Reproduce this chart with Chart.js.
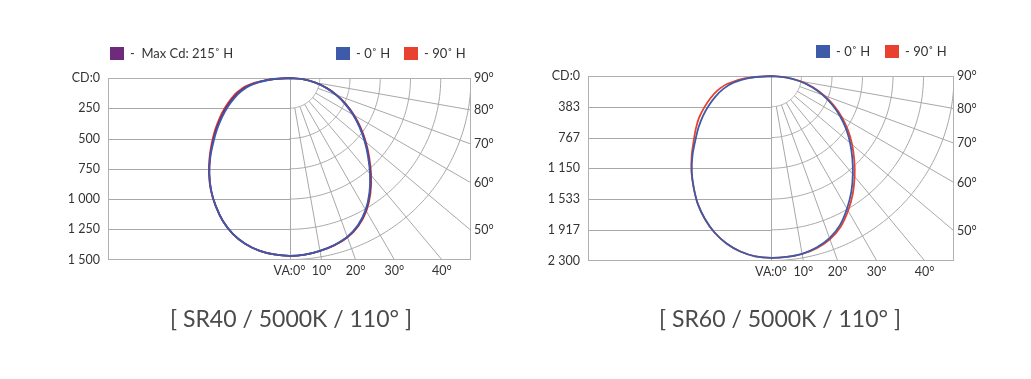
<!DOCTYPE html>
<html><head><meta charset="utf-8">
<script src="https://cdn.jsdelivr.net/npm/chart.js@4.4.1/dist/chart.umd.min.js"></script>
<style>
html,body{margin:0;padding:0;background:#fff;}
#wrap{position:relative;width:1031px;height:379px;overflow:hidden;background:#fff;}
.box{position:absolute;top:0;}
</style></head><body>
<div id="wrap">
  <div class="box" style="left:0;width:582px;height:379px"><canvas id="chart1" width="582" height="379" style="width:582px;height:379px"></canvas></div>
  <div class="box" style="left:529px;width:502px;height:379px"><canvas id="chart2" width="502" height="379" style="width:502px;height:379px"></canvas></div>
</div>
<script>
// ---------- data ----------
const angles = [0,5,10,15,20,25,30,35,40,45,50,55,60,65,70,75,80,85,90];

// SR40 (left chart), candela per vertical angle
const sr40_0H_right   = [1470,1465,1450,1428,1396,1340,1258,1152,1035,918,810,706,605,506,409,311,211,107,0];
const sr40_0H_left    = [1470,1463,1448,1418,1370,1303,1220,1130,1030,925,820,728,642,562,485,408,315,165,0];
const sr40_90H_right  = [1470,1465,1451,1431,1401,1348,1270,1166,1050,933,824,719,617,517,419,320,218,111,0];
const sr40_90H_left   = [1470,1463,1448,1418,1370,1303,1220,1133,1035,935,839,752,669,592,519,446,355,195,0];
const sr40_max_right  = [1470,1465,1450,1430,1398,1344,1264,1159,1042,925,817,712,611,511,414,315,214,109,0];
const sr40_max_left   = [1470,1463,1448,1418,1370,1303,1220,1131,1032,930,830,740,655,577,502,427,335,180,0];

// SR60 (right chart)
const sr60_0H_right   = [2266,2262,2250,2212,2150,2050,1910,1760,1600,1445,1298,1152,1003,848,690,530,360,182,0];
const sr60_0H_left    = [2266,2255,2220,2160,2075,1965,1840,1695,1550,1395,1240,1110,985,860,740,620,480,270,0];
const sr60_90H_right  = [2266,2262,2252,2220,2165,2072,1938,1792,1635,1480,1331,1182,1030,872,710,546,372,188,0];
const sr60_90H_left   = [2266,2255,2220,2160,2075,1965,1840,1695,1555,1410,1270,1155,1045,925,810,695,555,320,0];

// axis ticks / labels
const sr40_yTicks  = [0,250,500,750,1000,1250,1500];
const sr40_yLabels = ['CD:0','250','500','750','1 000','1 250','1 500'];
const sr60_yTicks  = [0,383.33,766.67,1150,1533.33,1916.67,2300];
const sr60_yLabels = ['CD:0','383','767','1 150','1 533','1 917','2 300'];
const bottomAngles = [0,10,20,30,40];
const bottomLabels = ['VA:0°','10°','20°','30°','40°'];
const sideAngles   = [90,80,70,60,50];
const sideLabels   = ['90°','80°','70°','60°','50°'];
const gridAngles   = [10,20,30,40,50,60,70,80];

const titles = ['[ SR40 / 5000K / 110° ]','[ SR60 / 5000K / 110° ]'];
const labelMax = '-  Max Cd: 215˚ H';
const label0H  = '- 0˚ H';
const label90H = '- 90˚ H';

const BLUE = '#3d5ba9', RED = '#e8412f', PURPLE = '#6e2b7c';
const GRID = '#a8a8a8', TEXT = '#333333', FONT = 'Lato';
const RAD = Math.PI / 180;

// ---------- helpers ----------
function polarPoints(left, right) {
  const pts = [];
  for (let i = angles.length - 1; i >= 0; i--) {
    const a = angles[i] * RAD;
    pts.push({x: -left[i] * Math.sin(a), y: left[i] * Math.cos(a)});
  }
  for (let i = 1; i < angles.length; i++) {
    const a = angles[i] * RAD;
    pts.push({x: right[i] * Math.sin(a), y: right[i] * Math.cos(a)});
  }
  return pts;
}

const polarGrid = {
  id: 'polarGrid',
  beforeDatasetsDraw(chart) {
    const {ctx, chartArea: ca, scales: {x, y}} = chart;
    const max = y.max;
    const P = (vx, vy) => [x.getPixelForValue(vx), y.getPixelForValue(vy)];
    ctx.save();
    ctx.beginPath();
    ctx.rect(ca.left, ca.top, ca.right - ca.left, ca.bottom - ca.top);
    ctx.clip();
    ctx.strokeStyle = GRID;
    ctx.lineWidth = 1;
    const x0 = Math.round(x.getPixelForValue(0)) + 0.5;
    y.ticks.forEach(t => {
      const py = Math.round(y.getPixelForValue(t.value)) + 0.5;
      ctx.beginPath(); ctx.moveTo(ca.left, py); ctx.lineTo(x0, py); ctx.stroke();
    });
    ctx.beginPath(); ctx.moveTo(x0, ca.top); ctx.lineTo(x0, ca.bottom); ctx.stroke();
    const radii = y.ticks.map(t => t.value).filter(v => v > 0);
    radii.forEach(r => {
      ctx.beginPath();
      for (let d = 0; d <= 90; d += 1) {
        const [px, py] = P(r * Math.sin(d * RAD), r * Math.cos(d * RAD));
        d ? ctx.lineTo(px, py) : ctx.moveTo(px, py);
      }
      ctx.stroke();
    });
    const r0 = radii[0];
    gridAngles.forEach(g => {
      const a = g * RAD;
      const [ax, ay] = P(r0 * Math.sin(a), r0 * Math.cos(a));
      const [bx, by] = P(4 * max * Math.sin(a), 4 * max * Math.cos(a));
      ctx.beginPath(); ctx.moveTo(ax, ay); ctx.lineTo(bx, by); ctx.stroke();
    });
    ctx.restore();
    ctx.save();
    ctx.strokeStyle = '#b0b0b0';
    ctx.lineWidth = 1;
    ctx.strokeRect(Math.round(ca.left) + 0.5, Math.round(ca.top) + 0.5,
                   Math.round(ca.right - ca.left) - 1, Math.round(ca.bottom - ca.top) - 1);
    ctx.restore();
  }
};

const boxLegend = {
  id: 'boxLegend',
  afterDraw(chart, args, o) {
    const ctx = chart.ctx;
    ctx.save();
    ctx.font = '13px ' + FONT;
    ctx.textBaseline = 'middle';
    ctx.textAlign = 'left';
    (o.items || []).forEach(it => {
      const ds = chart.data.datasets[it.index];
      ctx.fillStyle = ds.borderColor;
      ctx.fillRect(it.x, it.y, 14, 13);
      ctx.fillStyle = TEXT;
      ctx.fillText(ds.label, it.x + 20, it.y + 7);
    });
    ctx.restore();
  }
};

function makeChart(id, cfg) {
  const max = cfg.max;
  const tickFont = {family: FONT, size: 12.5};
  const hidden = {display: false, drawTicks: false};
  return new Chart(document.getElementById(id), {
    type: 'scatter',
    data: {datasets: cfg.datasets.map(d => ({
      label: d.label, data: polarPoints(d.left, d.right),
      showLine: true, borderColor: d.color, backgroundColor: d.color,
      borderWidth: 1.8, pointRadius: 0, tension: 0.35, clip: 3
    }))},
    options: {
      responsive: false, animation: false, events: [],
      layout: {padding: {left: 0, right: 0, top: cfg.top, bottom: 45.6}},
      scales: {
        x: {
          type: 'linear', min: -max, max: max,
          grid: hidden, border: {display: false},
          afterBuildTicks: s => { s.ticks = bottomAngles.map(a => ({value: max * Math.tan(a * RAD)})); },
          afterFit: s => { s.height = 20; },
          ticks: {autoSkip: false, maxRotation: 0, padding: 4, color: TEXT, font: tickFont,
                  callback: (v, i) => bottomLabels[i]}
        },
        y: {
          type: 'linear', reverse: true, min: 0, max: max, position: 'left',
          grid: hidden, border: {display: false},
          afterBuildTicks: s => { s.ticks = cfg.yTicks.map(v => ({value: v})); },
          afterFit: s => { s.width = cfg.yWidth; },
          ticks: {autoSkip: false, padding: 8, color: TEXT, font: tickFont,
                  callback: (v, i) => cfg.yLabels[i]}
        },
        y2: {
          type: 'linear', reverse: true, min: 0, max: max, position: 'right',
          grid: hidden, border: {display: false},
          afterBuildTicks: s => { s.ticks = sideAngles.map(a => ({value: a === 90 ? 0 : max / Math.tan(a * RAD)})); },
          afterFit: s => { s.width = cfg.y2Width; },
          ticks: {autoSkip: false, padding: 3, color: TEXT, font: tickFont,
                  callback: (v, i) => sideLabels[i]}
        }
      },
      plugins: {
        legend: {display: false},
        tooltip: {enabled: false},
        title: {display: true, text: cfg.title, position: 'bottom', fullSize: true,
                color: '#4a4a4a', font: {family: FONT, size: 23, weight: 'normal', lineHeight: 1.2},
                padding: {top: cfg.titleTop, bottom: 0}},
        boxLegend: {items: cfg.legend}
      }
    },
    plugins: [polarGrid, boxLegend]
  });
}

makeChart('chart1', {
  max: 1500, yTicks: sr40_yTicks, yLabels: sr40_yLabels,
  top: 78, yWidth: 108, y2Width: 111, titleTop: 26.2, title: titles[0],
  datasets: [
    {label: label0H,  color: BLUE,   left: sr40_0H_left,  right: sr40_0H_right},
    {label: labelMax, color: PURPLE, left: sr40_max_left, right: sr40_max_right},
    {label: label90H, color: RED,    left: sr40_90H_left, right: sr40_90H_right}
  ],
  legend: [{index: 1, x: 110, y: 47}, {index: 0, x: 336, y: 47}, {index: 2, x: 404, y: 47}]
});

makeChart('chart2', {
  max: 2300, yTicks: sr60_yTicks, yLabels: sr60_yLabels,
  top: 76, yWidth: 59, y2Width: 77, titleTop: 25.2, title: titles[1],
  datasets: [
    {label: label0H,  color: BLUE, left: sr60_0H_left,  right: sr60_0H_right},
    {label: label90H, color: RED,  left: sr60_90H_left, right: sr60_90H_right}
  ],
  legend: [{index: 0, x: 287, y: 45}, {index: 1, x: 356, y: 45}]
});
</script>
</body></html>
